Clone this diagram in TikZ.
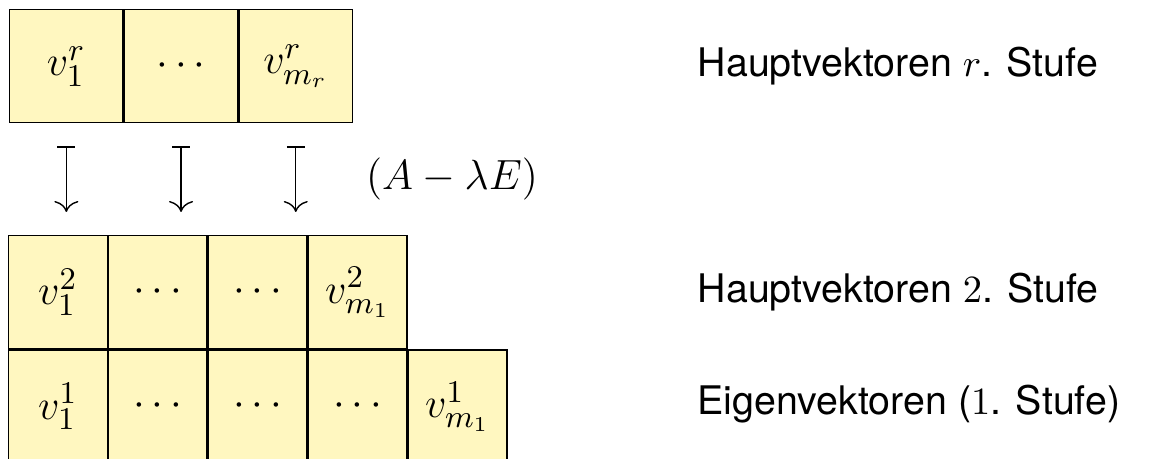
\documentclass[tikz,border=0pt]{standalone}
\usepackage{fontspec}
\setmainfont{TeX Gyre Heros}
\usetikzlibrary{arrows.meta, positioning}

\definecolor{cellbg}{RGB}{255,247,192}

\begin{document}
\begin{tikzpicture}[
    font=\fontsize{12.4}{14}\selectfont,
    cell/.style={
        rectangle, draw=black, fill=cellbg, line width=0.4pt,
        minimum width=#1, minimum height=1.13cm, inner sep=0pt
    },
    lbl/.style={
        anchor=base west, inner sep=0pt,
        font=\fontsize{11.2}{13}\selectfont
    },
    marrow/.style={
        {Bar[width=1.8mm]}-{To[length=1.1mm,width=2.4mm]}, line width=0.4pt,
        shorten <=0.23cm, shorten >=0.23cm
    },
]

\useasboundingbox (0,0) rectangle (11.72,4.59);

% ============================================================
% Hauptvektoren r. Stufe
% ============================================================

\node[cell=1.133cm, anchor=north west] (t1) at (0.09,4.50) {$v_1^r$};
\node[cell=1.133cm, right=0pt of t1] (t2) {$\cdots$};
\node[cell=1.133cm, right=0pt of t2] (t3) {$v_{m_r}^r$};

% ============================================================
% Hauptvektoren 2. Stufe and Eigenvektoren
% ============================================================

\node[cell=0.985cm, anchor=north west] (b1) at (0.08,2.24) {$v_1^2$};
\node[cell=0.985cm, right=0pt of b1] (b2) {$\cdots$};
\node[cell=0.985cm, right=0pt of b2] (b3) {$\cdots$};
\node[cell=0.985cm, right=0pt of b3] (b4) {$v_{m_1}^2$};

\node[cell=0.985cm, below=0pt of b1] (e1) {$v_1^1$};
\node[cell=0.985cm, right=0pt of e1] (e2) {$\cdots$};
\node[cell=0.985cm, right=0pt of e2] (e3) {$\cdots$};
\node[cell=0.985cm, right=0pt of e3] (e4) {$\cdots$};
\node[cell=0.985cm, right=0pt of e4] (e5) {$v_{m_1}^1$};

% mapping (A - lambda E)
\foreach \i in {1,2,3}
    \draw[marrow] (t\i.south) -- (t\i.south |- b1.north);

\node (op) at (4.52,2.80) {$(A-\lambda E)$};

% Beschriftung
\node[lbl] (l1) at (6.97,3.82) {Hauptvektoren $r$. Stufe};
\node[lbl] (l2) at (6.97,1.56) {Hauptvektoren $2$. Stufe};
\node[lbl] (l3) at (6.97,0.44) {Eigenvektoren ($1$. Stufe)};

\end{tikzpicture}
\end{document}
